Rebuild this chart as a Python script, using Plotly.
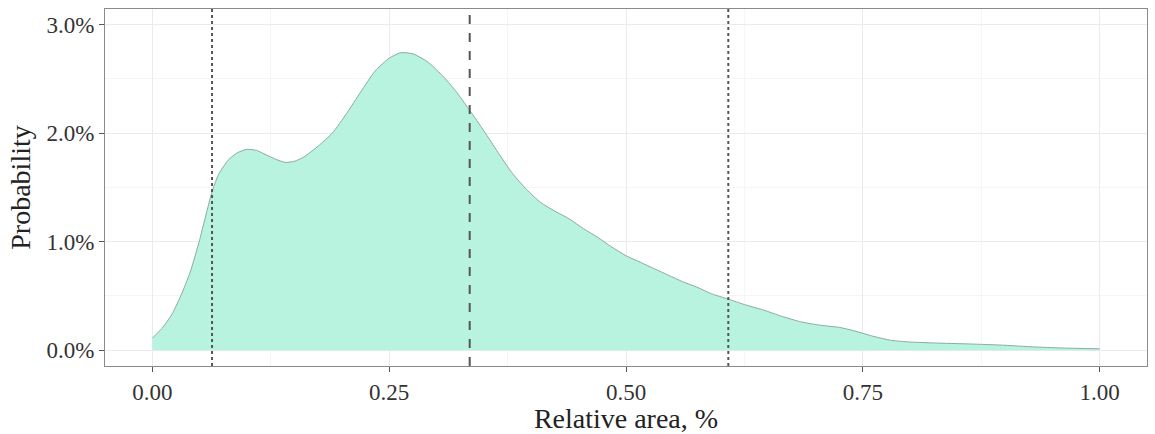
import plotly.graph_objects as go

# Density curve (relative area, probability as fraction)
area_x = [0.0, 0.01, 0.02, 0.03, 0.04, 0.05, 0.063, 0.07, 0.08, 0.09, 0.10, 0.11, 0.12, 0.13,
          0.14, 0.15, 0.16, 0.175, 0.19, 0.205, 0.22, 0.235, 0.25, 0.262, 0.275, 0.29, 0.305,
          0.32, 0.335, 0.35, 0.365, 0.38, 0.395, 0.41, 0.425, 0.44, 0.455, 0.47, 0.485, 0.5,
          0.515, 0.53, 0.545, 0.56, 0.575, 0.59, 0.608, 0.625, 0.645, 0.665, 0.685, 0.705,
          0.725, 0.74, 0.76, 0.78, 0.80, 0.83, 0.87, 0.90, 0.93, 0.96, 1.0]
prob_pct = [0.11, 0.2, 0.32, 0.5, 0.72, 1.02, 1.46, 1.62, 1.75, 1.82, 1.85, 1.84, 1.80, 1.76,
            1.73, 1.74, 1.78, 1.88, 2.0, 2.18, 2.38, 2.57, 2.69, 2.74, 2.73, 2.66, 2.54,
            2.39, 2.21, 2.02, 1.82, 1.63, 1.48, 1.36, 1.28, 1.21, 1.12, 1.04, 0.95, 0.87,
            0.81, 0.75, 0.69, 0.63, 0.58, 0.52, 0.47, 0.42, 0.37, 0.31, 0.26, 0.23,
            0.21, 0.18, 0.13, 0.09, 0.075, 0.065, 0.055, 0.045, 0.03, 0.02, 0.012]
prob = [p / 100 for p in prob_pct]

# Reference lines: quantiles (dotted) and mean (dashed)
quantile_x = [0.063, 0.608]
mean_x = [0.335]

x_ticks = [0.0, 0.25, 0.5, 0.75, 1.0]
x_ticklabels = ["0.00", "0.25", "0.50", "0.75", "1.00"]
y_ticks = [0.0, 0.01, 0.02, 0.03]
y_ticklabels = ["0.0%", "1.0%", "2.0%", "3.0%"]

FONT = "Liberation Serif"

fig = go.Figure()
fig.add_trace(go.Scatter(
    x=area_x, y=prob, mode="lines", fill="tozeroy",
    fillcolor="rgb(183,243,222)",
    line=dict(color="rgb(140,172,160)", width=1, shape="spline", smoothing=0.6),
    hoverinfo="skip", showlegend=False,
))

for q in quantile_x:
    fig.add_shape(type="line", xref="x", yref="paper", x0=q, x1=q, y0=0, y1=1,
                  line=dict(color="#555555", width=2, dash="dot"))
for m in mean_x:
    fig.add_shape(type="line", xref="x", yref="paper", x0=m, x1=m, y0=0, y1=1,
                  line=dict(color="#555555", width=2, dash="dash"))

fig.update_layout(
    width=1155, height=434,
    margin=dict(l=104.5, r=7, t=9.3, b=64),
    paper_bgcolor="white", plot_bgcolor="white",
    font=dict(family=FONT, color="#222222"),
    xaxis=dict(
        range=[-0.05, 1.05], tickvals=x_ticks, ticktext=x_ticklabels,
        showgrid=True, gridcolor="#ebebeb", gridwidth=1,
        minor=dict(showgrid=True, gridcolor="#f5f5f5", gridwidth=1, dtick=0.125, tick0=0.125),
        ticks="outside", ticklen=5, tickcolor="#555555", tickwidth=1,
        tickfont=dict(family=FONT, size=23, color="#333333"),
        title=dict(text="Relative area, %", font=dict(family=FONT, size=28, color="#222222"), standoff=3),
        showline=True, mirror=True, linecolor="#8a8a8a", linewidth=1,
        zeroline=False,
    ),
    yaxis=dict(
        range=[-0.00146, 0.03143], tickvals=y_ticks, ticktext=y_ticklabels,
        showgrid=True, gridcolor="#ebebeb", gridwidth=1,
        minor=dict(showgrid=True, gridcolor="#f5f5f5", gridwidth=1, dtick=0.005, tick0=0.005),
        ticks="outside", ticklen=5, tickcolor="#555555", tickwidth=1,
        tickfont=dict(family=FONT, size=23, color="#333333"),
        title=dict(text="Probability", font=dict(family=FONT, size=28, color="#222222"), standoff=7),
        showline=True, mirror=True, linecolor="#8a8a8a", linewidth=1,
        zeroline=False,
    ),
)

fig.write_html("out.html")
